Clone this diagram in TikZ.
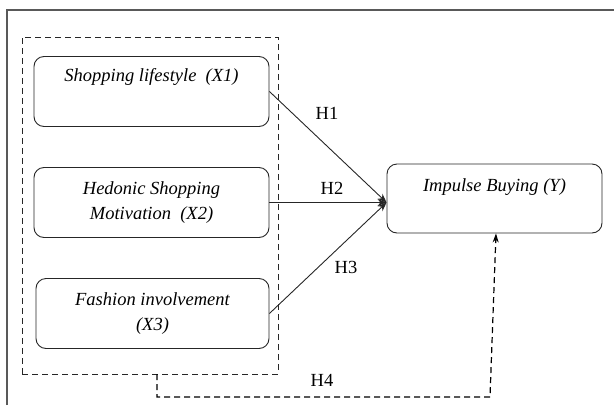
\documentclass[tikz,border=0pt]{standalone}
\usepackage{fontspec}
\setmainfont{Liberation Serif}
\usetikzlibrary{arrows.meta,calc}
\tikzset{
  varbox/.style={draw=black!85, line width=0.9pt, rounded corners=10pt, minimum width=235pt, minimum height=70pt, align=center, inner sep=0pt, font=\fontsize{18.5}{25}\selectfont\itshape},
  hyp/.style={font=\fontsize{18.5}{22}\selectfont, inner sep=0pt},
  link/.style={draw=black!85, line width=0.9pt, -{Stealth[length=9pt,width=7pt]}},
  dlink/.style={draw=black, line width=1.2pt, dash pattern=on 6pt off 4pt, -{Stealth[length=9pt,width=6pt]}},
}
\begin{document}
\begin{tikzpicture}[x=1pt,y=-1pt]
\useasboundingbox (0,0) rectangle (614,405);
% outer frame
\draw[black!65, line width=1.3pt] (7,405) -- (7,10) -- (614,10);
% dashed group
\node[draw=black!85, line width=0.9pt, dash pattern=on 6pt off 4pt, minimum width=256pt, minimum height=337pt, inner sep=0pt] (group) at (150,205.5) {};
% boxes
\node[varbox] (x1) at (151.5,91.5) {Shopping lifestyle~~(X1)\\[9pt]~};
\node[varbox] (x2) at (151.5,202.5) {Hedonic Shopping\\Motivation~~(X2)};
\node[varbox, minimum width=233pt] (x3) at (152.5,313.5) {Fashion involvement\\(X3)};
\node[varbox, minimum width=215pt, minimum height=69pt] (y) at (494.5,198.5) {Impulse Buying (Y)\\[1pt]~};
% arrows
\coordinate (tip) at (y.west |- x2.east);
\draw[link] (x1.east) -- (tip);
\draw[link] (x2.east) -- (tip);
\draw[link] (x3.east) -- (tip);
% labels
\node[hyp] (h1) at (327,113) {H1};
\node[hyp] (h2) at (332,188) {H2};
\node[hyp] (h3) at (346,267) {H3};
\node[hyp] (h4) at (322,380) {H4};
% H4 dashed path
\coordinate (h4a) at (157,374);
\coordinate (h4b) at (490,397);
\draw[dlink] (h4a) |- (h4b) -- ($(y.south)+(1.5,0)$);
\end{tikzpicture}
\end{document}
